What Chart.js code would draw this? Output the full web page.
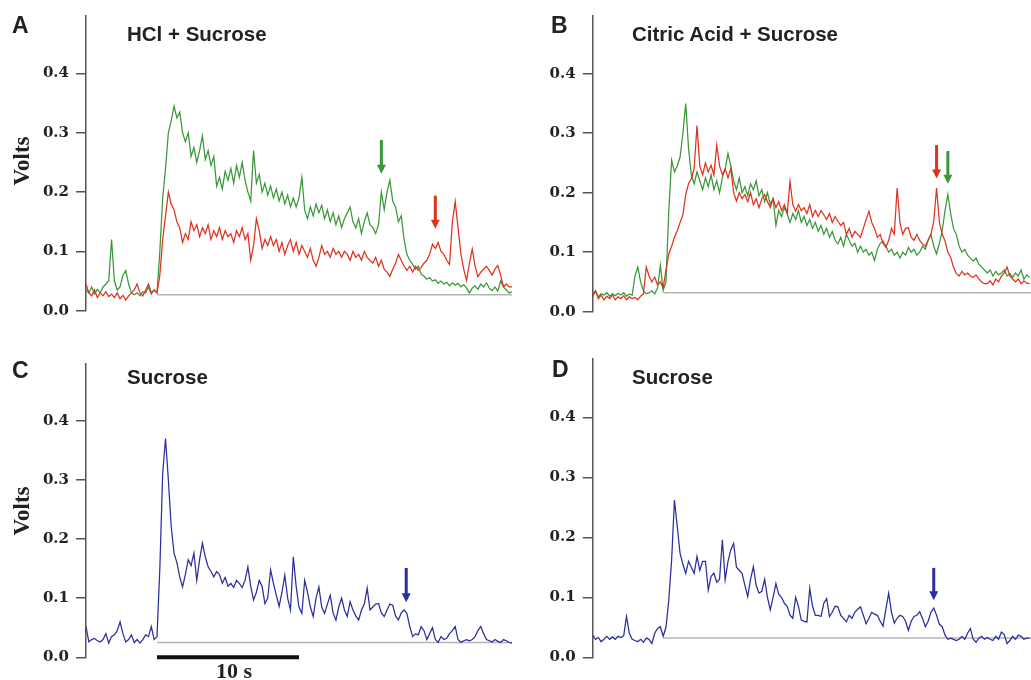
<!DOCTYPE html>
<html>
<head>
<meta charset="utf-8">
<script src="https://cdn.jsdelivr.net/npm/chart.js@4.4.1/dist/chart.umd.min.js"></script>
<style>
  html, body { margin: 0; padding: 0; background: #fff; }
  #figure { position: relative; width: 1031px; height: 680px; overflow: hidden; }
  #figure canvas { position: absolute; }
  .letter { position: absolute; font: bold 23px "Liberation Sans", Arial, sans-serif; line-height: 1; color: #222; }
  .title { position: absolute; font: bold 20.5px "Liberation Sans", Arial, sans-serif; line-height: 1; color: #222; white-space: nowrap; }
  .volts { position: absolute; font: bold 23px "Liberation Serif", "Times New Roman", serif; line-height: 1; color: #222;
           transform: translate(-50%, -50%) rotate(-90deg); }
  .scale-label { position: absolute; font: bold 22px "Liberation Serif", "Times New Roman", serif; line-height: 1; color: #222;
                 transform: translateX(-50%); white-space: nowrap; }
</style>
</head>
<body>
<div id="figure">
  <canvas id="panelA" width="520" height="330" style="left:0;top:0"></canvas>
  <canvas id="panelB" width="521" height="330" style="left:510px;top:0"></canvas>
  <canvas id="panelC" width="520" height="340" style="left:0;top:340px"></canvas>
  <canvas id="panelD" width="521" height="340" style="left:510px;top:340px"></canvas>

  <div class="letter" style="left:12px;top:14px">A</div>
  <div class="letter" style="left:551px;top:14px">B</div>
  <div class="letter" style="left:12px;top:359px">C</div>
  <div class="letter" style="left:552px;top:358px">D</div>

  <div class="title" style="left:127px;top:24px">HCl + Sucrose</div>
  <div class="title" style="left:632px;top:24px">Citric Acid + Sucrose</div>
  <div class="title" style="left:127px;top:367px">Sucrose</div>
  <div class="title" style="left:632px;top:367px">Sucrose</div>

  <div class="volts" style="left:21px;top:161px">Volts</div>
  <div class="volts" style="left:21px;top:511px">Volts</div>
  <div class="scale-label" style="left:234px;top:660px">10 s</div>
</div>

<script>
// one sample every 0.2 s, stimulus at 5 s
const SAMPLE_STEP = 0.2;
const ONSET = 5;
const Y_MAX = 0.497;
const voltTicks = [0, 0.1, 0.2, 0.3, 0.4];

const GREEN = '#3a983a';
const RED = '#e0321f';
const BLUE = '#2b2f9c';

// A: HCl + Sucrose (volts)
const greenA = [
  0.035, 0.03, 0.04, 0.028, 0.036,
  0.03, 0.04, 0.045, 0.05, 0.12,
  0.05, 0.035, 0.04, 0.06, 0.068,
  0.045, 0.03, 0.027, 0.03, 0.025,
  0.032, 0.03, 0.04, 0.028, 0.035,
  0.03, 0.1, 0.19, 0.24, 0.3,
  0.32, 0.345, 0.325, 0.335, 0.3,
  0.285, 0.3, 0.26, 0.275, 0.25,
  0.27, 0.295, 0.255, 0.27, 0.245,
  0.26, 0.21, 0.225, 0.205, 0.235,
  0.22, 0.24, 0.215, 0.245, 0.225,
  0.25, 0.22, 0.2, 0.185, 0.27,
  0.215, 0.23, 0.2, 0.215, 0.195,
  0.21, 0.19, 0.205, 0.185, 0.2,
  0.18, 0.195, 0.175, 0.19, 0.175,
  0.19, 0.225, 0.17, 0.155, 0.175,
  0.16, 0.18, 0.165, 0.178, 0.155,
  0.17, 0.15, 0.165, 0.145, 0.16,
  0.14, 0.155, 0.165, 0.175, 0.15,
  0.14, 0.155, 0.13, 0.15, 0.165,
  0.145, 0.14, 0.13, 0.145, 0.2,
  0.17, 0.2, 0.22, 0.185, 0.175,
  0.15, 0.16, 0.12, 0.095, 0.085,
  0.078, 0.07, 0.075, 0.062, 0.058,
  0.053, 0.056, 0.05, 0.052, 0.046,
  0.05, 0.045, 0.048, 0.042, 0.047,
  0.043, 0.046, 0.04, 0.044, 0.038,
  0.03, 0.038, 0.042, 0.036, 0.045,
  0.04, 0.047, 0.038, 0.034, 0.04,
  0.033, 0.05, 0.04, 0.035, 0.03,
  0.032
];
const redA = [
  0.045, 0.03, 0.025, 0.035, 0.022,
  0.03, 0.025, 0.032, 0.024, 0.028,
  0.022, 0.03, 0.02, 0.026, 0.018,
  0.025, 0.03, 0.035, 0.045, 0.03,
  0.025, 0.035, 0.045, 0.03, 0.035,
  0.03, 0.06, 0.12, 0.16, 0.2,
  0.18, 0.17, 0.15, 0.14, 0.115,
  0.13, 0.12, 0.15, 0.135, 0.145,
  0.125, 0.14, 0.13, 0.145, 0.12,
  0.135, 0.125, 0.14, 0.12, 0.135,
  0.125, 0.13, 0.115, 0.135, 0.125,
  0.14, 0.12, 0.13, 0.085, 0.11,
  0.155, 0.135, 0.105, 0.12, 0.11,
  0.125, 0.11, 0.12, 0.1, 0.115,
  0.095, 0.11, 0.12, 0.1, 0.115,
  0.095, 0.11, 0.1, 0.09, 0.105,
  0.085, 0.075, 0.09, 0.11, 0.095,
  0.1, 0.09, 0.105, 0.095, 0.1,
  0.09, 0.1, 0.095, 0.085, 0.1,
  0.09, 0.095, 0.085, 0.1, 0.09,
  0.085, 0.08, 0.09, 0.075, 0.085,
  0.07, 0.065, 0.058, 0.07, 0.08,
  0.095, 0.085, 0.075, 0.068, 0.075,
  0.065, 0.075, 0.068, 0.073, 0.08,
  0.085, 0.095, 0.112, 0.105, 0.115,
  0.1, 0.095, 0.085, 0.078, 0.15,
  0.184, 0.14, 0.096, 0.07, 0.051,
  0.08, 0.104, 0.075, 0.057, 0.065,
  0.07, 0.075, 0.068, 0.06, 0.07,
  0.076, 0.06, 0.04, 0.045, 0.04,
  0.04
];

// B: Citric Acid + Sucrose (volts)
const greenB = [
  0.03, 0.035, 0.025, 0.03, 0.028,
  0.032, 0.026, 0.03, 0.027, 0.031,
  0.028, 0.032, 0.026, 0.03, 0.028,
  0.06, 0.075, 0.05, 0.035, 0.03,
  0.032, 0.035, 0.03, 0.04, 0.078,
  0.036, 0.05, 0.17, 0.255, 0.235,
  0.245, 0.26, 0.3, 0.35, 0.275,
  0.23, 0.215, 0.235, 0.22, 0.205,
  0.225, 0.21, 0.23, 0.205, 0.22,
  0.2, 0.225, 0.24, 0.266, 0.245,
  0.22, 0.205, 0.225, 0.2, 0.21,
  0.195, 0.215, 0.205, 0.22, 0.195,
  0.205, 0.185, 0.2, 0.18, 0.19,
  0.145, 0.17, 0.16, 0.175, 0.165,
  0.15, 0.165, 0.155, 0.17, 0.15,
  0.16, 0.145, 0.155, 0.14, 0.15,
  0.135, 0.145, 0.13, 0.14, 0.125,
  0.135, 0.12, 0.114, 0.125, 0.11,
  0.13, 0.12, 0.11, 0.115, 0.1,
  0.11, 0.1, 0.105, 0.095, 0.1,
  0.086, 0.105, 0.115, 0.119, 0.11,
  0.1, 0.105, 0.095, 0.1, 0.09,
  0.1, 0.095, 0.108, 0.1, 0.105,
  0.095, 0.1, 0.11, 0.105, 0.12,
  0.13, 0.11, 0.097, 0.115, 0.136,
  0.17, 0.197, 0.165, 0.14, 0.13,
  0.11, 0.1, 0.105, 0.095, 0.09,
  0.085, 0.09, 0.08, 0.075, 0.07,
  0.065, 0.07, 0.06, 0.068, 0.062,
  0.065, 0.07, 0.06, 0.064, 0.058,
  0.065, 0.06, 0.07, 0.055, 0.062,
  0.058
];
const redB = [
  0.025, 0.035, 0.022, 0.028, 0.02,
  0.026, 0.022, 0.028, 0.02, 0.025,
  0.022, 0.027, 0.02, 0.025, 0.022,
  0.024, 0.02, 0.026, 0.03, 0.075,
  0.06, 0.05, 0.058, 0.045, 0.05,
  0.04, 0.07, 0.097, 0.11, 0.125,
  0.136, 0.15, 0.163, 0.197, 0.215,
  0.224, 0.241, 0.313, 0.245, 0.23,
  0.25, 0.235, 0.246, 0.23, 0.28,
  0.245, 0.23, 0.24, 0.225, 0.241,
  0.2, 0.186, 0.2, 0.19, 0.197,
  0.185, 0.2, 0.18, 0.19, 0.175,
  0.19, 0.197, 0.185, 0.175, 0.19,
  0.175, 0.185, 0.17, 0.18, 0.165,
  0.219, 0.18, 0.169, 0.18, 0.17,
  0.175, 0.165, 0.18, 0.16, 0.17,
  0.16, 0.17, 0.163, 0.155, 0.165,
  0.15, 0.16, 0.152, 0.145, 0.15,
  0.13, 0.14, 0.125, 0.135, 0.13,
  0.125, 0.14, 0.155, 0.169, 0.15,
  0.14, 0.125, 0.13, 0.115, 0.108,
  0.12, 0.14, 0.13, 0.208, 0.15,
  0.13, 0.14, 0.141, 0.125, 0.12,
  0.13, 0.12, 0.114, 0.11, 0.12,
  0.13, 0.152, 0.208, 0.15, 0.13,
  0.119, 0.1, 0.091, 0.075, 0.064,
  0.06, 0.068, 0.062, 0.065, 0.06,
  0.058, 0.062, 0.055, 0.05, 0.047,
  0.047, 0.052, 0.045, 0.055, 0.05,
  0.06, 0.065, 0.075, 0.06, 0.055,
  0.05, 0.055, 0.047, 0.052, 0.048,
  0.047
];

// C: Sucrose (volts)
const blueC = [
  0.052, 0.026, 0.03, 0.032, 0.028,
  0.026, 0.03, 0.04, 0.024, 0.035,
  0.038, 0.045, 0.06, 0.04, 0.026,
  0.03, 0.038, 0.025, 0.03, 0.024,
  0.03, 0.038, 0.035, 0.052, 0.03,
  0.035, 0.15, 0.311, 0.37, 0.3,
  0.221, 0.176, 0.16, 0.136, 0.119,
  0.14, 0.165, 0.155, 0.176, 0.13,
  0.165, 0.193, 0.17, 0.153, 0.145,
  0.136, 0.145, 0.14, 0.125, 0.135,
  0.12, 0.125, 0.118, 0.13, 0.125,
  0.118, 0.13, 0.153, 0.12, 0.097,
  0.11, 0.13, 0.12, 0.091, 0.1,
  0.148, 0.125, 0.105, 0.086, 0.11,
  0.139, 0.1, 0.08, 0.17, 0.12,
  0.085, 0.074, 0.13, 0.11, 0.085,
  0.069, 0.1, 0.119, 0.085, 0.074,
  0.09, 0.105, 0.075, 0.063, 0.085,
  0.1, 0.08, 0.069, 0.094, 0.08,
  0.07, 0.063, 0.08, 0.09, 0.117,
  0.08, 0.085, 0.09, 0.091, 0.075,
  0.069, 0.08, 0.09, 0.088, 0.07,
  0.063, 0.075, 0.08, 0.074, 0.052,
  0.035, 0.04, 0.038, 0.052, 0.045,
  0.03, 0.04, 0.05, 0.03, 0.025,
  0.035, 0.03, 0.032, 0.04, 0.045,
  0.052, 0.03, 0.025, 0.028, 0.03,
  0.028, 0.03, 0.035, 0.045, 0.052,
  0.04, 0.03, 0.028, 0.026, 0.03,
  0.027, 0.025, 0.03, 0.028, 0.025,
  0.024
];

// D: Sucrose (volts)
const blueD = [
  0.037, 0.03, 0.033, 0.026, 0.03,
  0.035, 0.03, 0.034, 0.03, 0.035,
  0.033, 0.036, 0.068, 0.04, 0.03,
  0.028, 0.026, 0.03, 0.025, 0.032,
  0.03, 0.023, 0.04, 0.048, 0.051,
  0.035, 0.05, 0.096, 0.162, 0.262,
  0.218, 0.173, 0.155, 0.14, 0.16,
  0.15, 0.14, 0.168, 0.145, 0.16,
  0.16, 0.112, 0.135, 0.14, 0.125,
  0.13, 0.196, 0.129, 0.16, 0.179,
  0.19, 0.15, 0.145, 0.14, 0.12,
  0.101, 0.13, 0.151, 0.12, 0.107,
  0.11, 0.13, 0.1, 0.079, 0.1,
  0.123, 0.105, 0.1, 0.09, 0.085,
  0.07, 0.065, 0.1, 0.085, 0.062,
  0.06, 0.059, 0.115, 0.085, 0.07,
  0.07, 0.068, 0.09, 0.098, 0.068,
  0.075, 0.085, 0.084, 0.07, 0.065,
  0.059, 0.07, 0.065, 0.075, 0.08,
  0.084, 0.07, 0.056, 0.065, 0.075,
  0.072, 0.07, 0.06, 0.052, 0.08,
  0.107, 0.075, 0.057, 0.065, 0.07,
  0.068, 0.06, 0.045, 0.06, 0.068,
  0.07, 0.076, 0.065, 0.051, 0.06,
  0.075, 0.082, 0.07, 0.055, 0.051,
  0.037, 0.03, 0.032, 0.03, 0.028,
  0.03, 0.035, 0.03, 0.04, 0.048,
  0.03, 0.025, 0.032, 0.035, 0.03,
  0.033, 0.03, 0.028, 0.035, 0.03,
  0.042, 0.038, 0.023, 0.028, 0.035,
  0.03, 0.037, 0.035, 0.03, 0.032,
  0.032
];

// pre-stimulus resting level drawn as a grey reference line
const baselineA = 0.027;
const baselineB = 0.032;
const baselineC = 0.025;
const baselineD = 0.032;

// end-of-response markers: time (s), arrow top and tip (volts)
const arrowsA = [
  { t: 20.8, from: 0.288, to: 0.231, color: GREEN },
  { t: 24.6, from: 0.194, to: 0.138, color: RED },
];
const arrowsB = [
  { t: 24.4, from: 0.280, to: 0.224, color: RED },
  { t: 25.2, from: 0.270, to: 0.215, color: GREEN },
];
const arrowsC = [{ t: 22.55, from: 0.151, to: 0.093, color: BLUE }];
const arrowsD = [{ t: 24.2, from: 0.149, to: 0.095, color: BLUE }];

const markPlugin = {
    id: 'marks',
    afterDatasetsDraw(chart, args, opts) {
        const { ctx, scales: { x, y } } = chart;
        (opts.arrows || []).forEach((a) => {
            const px = x.getPixelForValue(a.t);
            const yTop = y.getPixelForValue(a.from);
            const yTip = y.getPixelForValue(a.to);
            ctx.save();
            ctx.strokeStyle = a.color;
            ctx.fillStyle = a.color;
            ctx.lineWidth = 3;
            ctx.beginPath();
            ctx.moveTo(px, yTop);
            ctx.lineTo(px, yTip - 7);
            ctx.stroke();
            ctx.beginPath();
            ctx.moveTo(px - 4.5, yTip - 9);
            ctx.lineTo(px + 4.5, yTip - 9);
            ctx.lineTo(px, yTip);
            ctx.closePath();
            ctx.fill();
            ctx.restore();
        });
        const bar = opts.scaleBar;
        if (bar) {
            ctx.save();
            ctx.strokeStyle = '#111';
            ctx.lineWidth = 4;
            ctx.beginPath();
            ctx.moveTo(x.getPixelForValue(bar.from), y.getPixelForValue(bar.value));
            ctx.lineTo(x.getPixelForValue(bar.to), y.getPixelForValue(bar.value));
            ctx.stroke();
            ctx.restore();
        }
    },
};

function makePanel(canvasId, cfg) {
    const datasets = cfg.traces.map((trace, i) => ({
        data: trace.values.map((v, k) => ({ x: k * SAMPLE_STEP, y: v })),
        borderColor: trace.color,
        borderWidth: 1.25,
        pointRadius: 0,
        tension: 0,
        order: i + 1,
    }));
    datasets.push({
        data: [{ x: ONSET, y: cfg.baseline }, { x: cfg.tMax, y: cfg.baseline }],
        borderColor: '#b4b4b4',
        borderWidth: 1.5,
        pointRadius: 0,
        order: 99,
    });

    return new Chart(document.getElementById(canvasId), {
        type: 'line',
        data: { datasets },
        options: {
            responsive: false,
            animation: false,
            layout: { padding: { top: cfg.padTop, bottom: cfg.padBottom, left: 0, right: cfg.padRight } },
            plugins: {
                legend: { display: false },
                tooltip: { enabled: false },
                marks: { arrows: cfg.arrows, scaleBar: cfg.scaleBar || null },
            },
            scales: {
                x: { type: 'linear', display: false, min: 0, max: cfg.tMax },
                y: {
                    min: 0,
                    max: Y_MAX,
                    afterFit: (scale) => { scale.width = cfg.axisWidth; },
                    afterBuildTicks: (scale) => { scale.ticks = voltTicks.map((v) => ({ value: v })); },
                    ticks: {
                        color: '#222',
                        padding: 7,
                        font: { family: '"DejaVu Serif", serif', weight: 'bold', size: 15 },
                        callback: (v) => Number(v).toFixed(1),
                    },
                    grid: { drawOnChartArea: false, drawTicks: true, tickLength: 10, color: '#555', lineWidth: 1.5 },
                    border: { display: true, color: '#555', width: 1.5 },
                },
            },
        },
        plugins: [markPlugin],
    });
}

makePanel('panelA', {
    traces: [{ values: redA, color: RED }, { values: greenA, color: GREEN }],
    baseline: baselineA, arrows: arrowsA, tMax: 30,
    axisWidth: 86, padTop: 12.5, padBottom: 19.3, padRight: 8,
});
makePanel('panelB', {
    traces: [{ values: redB, color: RED }, { values: greenB, color: GREEN }],
    baseline: baselineB, arrows: arrowsB, tMax: 31.1,
    axisWidth: 82.7, padTop: 12.6, padBottom: 18.3, padRight: 0,
});
makePanel('panelC', {
    traces: [{ values: blueC, color: BLUE }],
    baseline: baselineC, arrows: arrowsC, tMax: 30,
    scaleBar: { from: 5, to: 15, value: 0 },
    axisWidth: 86, padTop: 23.3, padBottom: 22.7, padRight: 8,
});
makePanel('panelD', {
    traces: [{ values: blueD, color: BLUE }],
    baseline: baselineD, arrows: arrowsD, tMax: 31.1,
    axisWidth: 82.7, padTop: 19.1, padBottom: 22.7, padRight: 0,
});
</script>
</body>
</html>
